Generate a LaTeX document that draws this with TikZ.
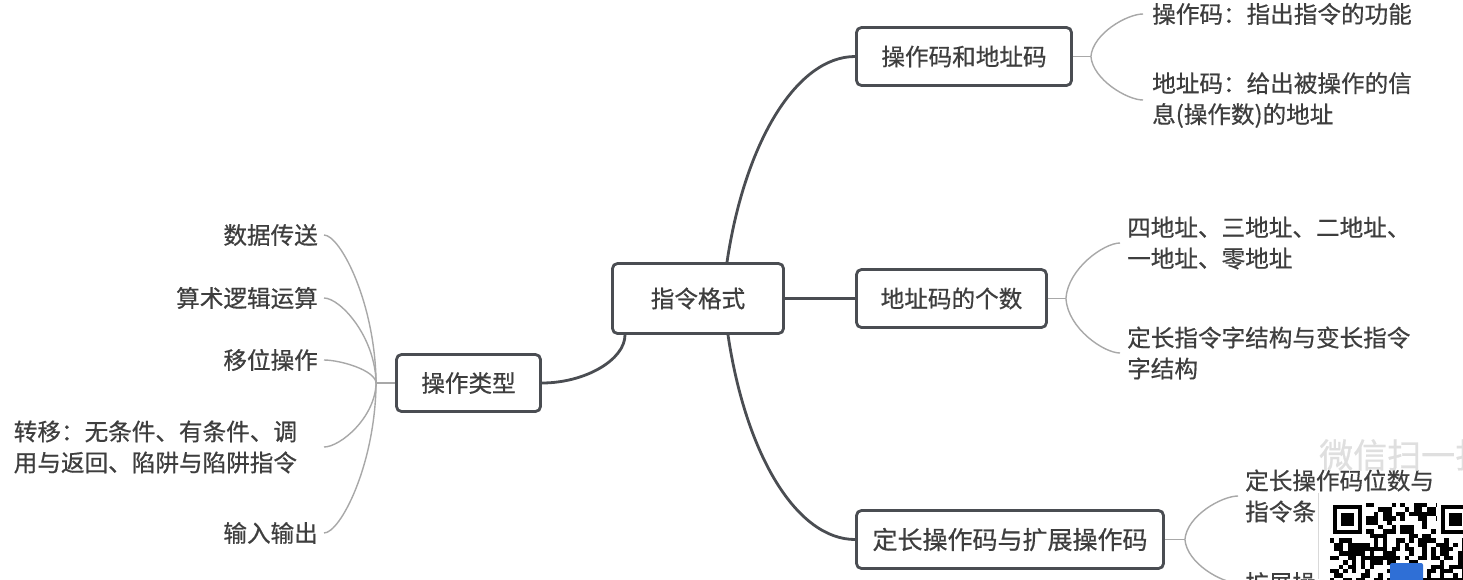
\documentclass[tikz,border=0pt]{standalone}
\usepackage{fontspec}
\setmainfont{Noto Sans CJK SC}[FakeBold=0.6]
\usetikzlibrary{calc}
\definecolor{boxc}{HTML}{4A4D52}
\definecolor{txt}{HTML}{3E3E3E}
\definecolor{leafc}{HTML}{A8A8A8}
\definecolor{badge}{HTML}{2F6FD6}
\newcommand{\fsz}{\fontsize{23.6pt}{31pt}\selectfont}
\begin{document}
\begin{tikzpicture}[x=1pt,y=-1pt,
  mbox/.style={draw=boxc, line width=2.8pt, rounded corners=5pt, fill=white,
    text=txt, font=\fsz, inner sep=0pt, minimum height=58pt, align=center},
  leaf/.style={text=txt, font=\fsz, inner ysep=0pt, inner xsep=7pt, align=left},
  mainline/.style={draw=boxc, line width=2.8pt},
  thinline/.style={draw=leafc, line width=1.4pt}]
\useasboundingbox (0,0) rectangle (1463,579);
\clip (0,0) rectangle (1463,579);
\fill[white] (0,0) rectangle (1463,579);

% main boxes
\node[mbox, minimum width=171pt, minimum height=70pt] (root) at (698,298.5) {指令格式};
\node[mbox, minimum width=215pt] (b1) at (964,56.5) {操作码和地址码};
\node[mbox, minimum width=190pt] (b2) at (951.5,298.5) {地址码的个数};
\node[mbox, minimum width=307pt, font=\fontsize{25pt}{31pt}\selectfont] (b3) at (1010,539.5) {定长操作码与扩展操作码};
\node[mbox, minimum width=144pt, minimum height=57pt] (b4) at (468.5,383) {操作类型};

% main connectors
\draw[mainline] (root.east) -- (b2.west);
\draw[mainline] ([xshift=29pt]root.north) .. controls +(18,-121) and +(-58,0) .. (b1.west);
\draw[mainline] ([xshift=30pt]root.south) .. controls +(18,121) and +(-58,0) .. (b3.west);
\draw[mainline] (b4.east) .. controls +(43,0) and +(0,25) .. ([xshift=-73pt]root.south);

% junctions
\coordinate (J1) at ([xshift=18pt]b1.east);
\coordinate (J2) at ([xshift=18pt]b2.east);
\coordinate (J3) at ([xshift=20pt]b3.east);
\coordinate (J4) at ([xshift=-19pt]b4.west);

% right leaves
\node[leaf, anchor=west, inner xsep=9pt] (l11) at (1143,14) {操作码：指出指令的功能};
\node[leaf, anchor=west, inner xsep=9pt] (l12) at (1143,100) {地址码：给出被操作的信\\息(操作数)的地址};
\node[leaf, anchor=west] (l21) at (1120,243) {四地址、三地址、二地址、\\一地址、零地址};
\node[leaf, anchor=west] (l22) at (1120,353) {定长指令字结构与变长指令\\字结构};
\node[leaf, anchor=west] (l31) at (1238,496) {定长操作码位数与\\指令条};
\node[leaf, anchor=west] (l32) at (1238,583) {扩展操};

% left leaves
\node[leaf, anchor=east, inner xsep=6pt] (l41) at (324,235) {数据传送};
\node[leaf, anchor=east, inner xsep=6pt] (l42) at (324,298) {算术逻辑运算};
\node[leaf, anchor=east, inner xsep=6pt] (l43) at (324,360) {移位操作};
\node[leaf, anchor=east, inner xsep=6pt, text width=304pt] (l44) at (324,447) {转移：无条件、有条件、调\\用与返回、陷阱与陷阱指令};
\node[leaf, anchor=east, inner xsep=6pt] (l45) at (324,533) {输入输出};

% stubs
\draw[thinline] (b1.east) -- (J1);
\draw[thinline] (b2.east) -- (J2);
\draw[thinline] (b3.east) -- (J3);
\draw[thinline] (b4.west) -- (J4);

% leaf connectors right
\draw[thinline] (J1) .. controls +(2,-23) and +(-16,0) .. (l11.west);
\draw[thinline] (J1) .. controls +(2,23) and +(-16,0) .. (l12.west);
\draw[thinline] (J2) .. controls +(2,-30) and +(-16,0) .. (l21.west);
\draw[thinline] (J2) .. controls +(2,30) and +(-16,0) .. (l22.west);
\draw[thinline] (J3) .. controls +(2,-24) and +(-16,0) .. (l31.west);
\draw[thinline] (J3) .. controls +(2,24) and +(-16,0) .. (l32.west);

% leaf connectors left
\draw[thinline] (J4) .. controls +(-1,-81) and +(16,0) .. (l41.east);
\draw[thinline] (J4) .. controls +(-1,-47) and +(16,0) .. (l42.east);
\draw[thinline] (J4) .. controls +(-1,-13) and +(16,0) .. (l43.east);
\draw[thinline] (J4) .. controls +(-1,35) and +(16,0) .. (l44.east);
\draw[thinline] (J4) .. controls +(-1,83) and +(16,0) .. (l45.east);

% watermark overlay
\node[anchor=west, text=gray!25, font=\fontsize{34pt}{34pt}\selectfont, inner sep=0pt] (wm) at (1319,455) {微信扫一扫};
\fill[white] (1318,493) rectangle (1463,579);
\draw[gray!30, line width=0.6pt] (1318,493) -- (1318,579);
\pgfmathsetseed{20231}
\foreach \i in {0,...,30}{\foreach \j in {0,...,17}{%
  \pgfmathtruncatemacro\qb{rnd<0.5}%
  \ifnum\qb=1 \fill[black] ({1330+\i*4.4},{503+\j*4.4}) rectangle ++(4.4,4.4);\fi}}
\fill[white] (1329,502) rectangle (1366,538);
\fill[black] (1333,505) rectangle (1362,534);
\fill[white] (1337,509) rectangle (1358,530);
\fill[black] (1341,513) rectangle (1354,526);
\fill[white] (1437,502) rectangle (1470,538);
\fill[black] (1441,505) rectangle (1470,534);
\fill[white] (1445,509) rectangle (1466,530);
\fill[black] (1449,513) rectangle (1462,526);
\fill[badge, rounded corners=2pt] (1390,563) rectangle (1423,585);
\end{tikzpicture}
\end{document}
